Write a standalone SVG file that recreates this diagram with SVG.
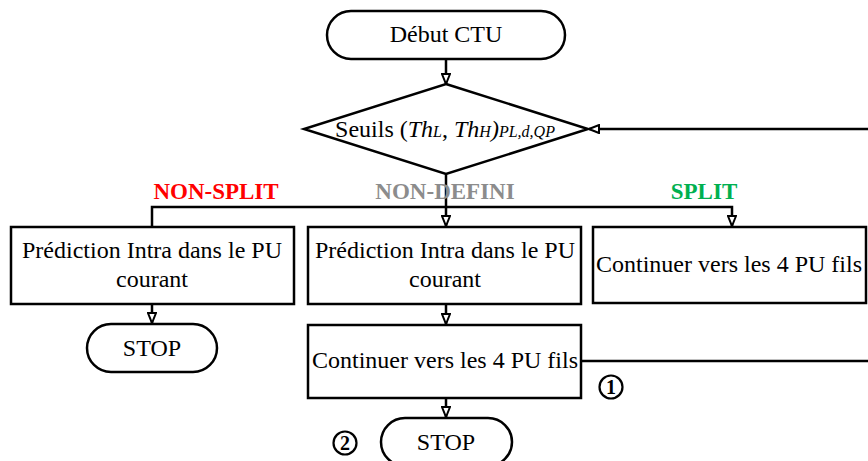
<svg xmlns="http://www.w3.org/2000/svg" width="868" height="461" viewBox="0 0 868 461">
<style>
.shape{fill:#fff;stroke:#000;stroke-width:2.5}
.ln{fill:none;stroke:#000;stroke-width:2.5}
text{font-family:'Liberation Serif','DejaVu Serif',serif}
.t{font-size:24px;fill:#000}
.lab{font-size:23px;font-weight:bold}
.num{font-size:20px;font-weight:bold;fill:#000}
.sub{font-size:16px;font-style:italic}
</style>
<defs>
<marker id="arr" viewBox="0 0 12 10" refX="11" refY="5" markerWidth="12" markerHeight="10" markerUnits="userSpaceOnUse" orient="auto">
<path d="M1,1 L11,5 L1,9 Z" fill="#fff" stroke="#000" stroke-width="2"/>
</marker>
</defs>
<g id="connectors">
<line class="ln" x1="446" y1="59" x2="446" y2="84" marker-end="url(#arr)"/>
<line class="ln" x1="868" y1="129" x2="589" y2="129" marker-end="url(#arr)"/>
<polyline class="ln" points="446,174 446,207"/>
<polyline class="ln" points="152,226 152,207 732,207 732,226" marker-start="url(#arr)" marker-end="url(#arr)"/>
<line class="ln" x1="446" y1="207" x2="446" y2="226" marker-end="url(#arr)"/>
<line class="ln" x1="152" y1="304" x2="152" y2="323" marker-end="url(#arr)"/>
<line class="ln" x1="446" y1="304" x2="446" y2="324" marker-end="url(#arr)"/>
<line class="ln" x1="446" y1="398" x2="446" y2="417" marker-end="url(#arr)"/>
<line class="ln" x1="581" y1="361" x2="868" y2="361"/>
</g>
<g id="debut">
<rect class="shape" x="327" y="11" width="238" height="48" rx="24"/>
<text class="t" x="446" y="42" text-anchor="middle">Début CTU</text>
</g>
<g id="seuils">
<polygon class="shape" points="446,84 588,129 446,174 304,129"/>
<text class="t" x="445" y="137" text-anchor="middle">Seuils (<tspan font-style="italic">Th</tspan><tspan class="sub">L</tspan>, <tspan font-style="italic">Th</tspan><tspan class="sub">H</tspan><tspan font-style="italic">)</tspan><tspan class="sub">PL,d,QP</tspan></text>
</g>
<g id="labels">
<text class="lab" x="216" y="199" text-anchor="middle" fill="#ff0000">NON-SPLIT</text>
<text class="lab" x="445" y="199" text-anchor="middle" fill="#8c8c8c">NON-DEFINI</text>
<text class="lab" x="704" y="199" text-anchor="middle" fill="#00b050">SPLIT</text>
</g>
<g id="pred-left">
<rect class="shape" x="11" y="227" width="283" height="77"/>
<text class="t" x="152" y="258" text-anchor="middle">Prédiction Intra dans le PU</text>
<text class="t" x="152" y="287" text-anchor="middle">courant</text>
</g>
<g id="stop-left">
<rect class="shape" x="87" y="324" width="130" height="48" rx="24"/>
<text class="t" x="152" y="356" text-anchor="middle">STOP</text>
</g>
<g id="pred-mid">
<rect class="shape" x="308" y="227" width="273" height="77"/>
<text class="t" x="445" y="258" text-anchor="middle">Prédiction Intra dans le PU</text>
<text class="t" x="445" y="287" text-anchor="middle">courant</text>
</g>
<g id="cont-mid">
<rect class="shape" x="308" y="325" width="273" height="73"/>
<text class="t" x="445" y="368" text-anchor="middle">Continuer vers les 4 PU fils</text>
</g>
<g id="cont-right">
<rect class="shape" x="593" y="227" width="273" height="76"/>
<text class="t" x="729" y="272" text-anchor="middle">Continuer vers les 4 PU fils</text>
</g>
<g id="stop-bottom">
<rect class="shape" x="381" y="418" width="131" height="48" rx="24"/>
<text class="t" x="446" y="450" text-anchor="middle">STOP</text>
</g>
<g id="mark1">
<circle cx="611" cy="387" r="11.5" fill="none" stroke="#000" stroke-width="2.2"/>
<text class="num" x="611" y="394" text-anchor="middle">1</text>
</g>
<g id="mark2">
<circle cx="345" cy="443" r="11.5" fill="none" stroke="#000" stroke-width="2.2"/>
<text class="num" x="345" y="450" text-anchor="middle">2</text>
</g>
</svg>
